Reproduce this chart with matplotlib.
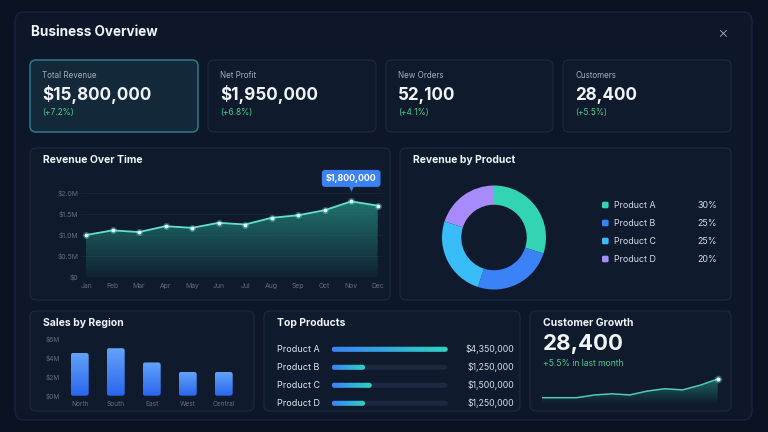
import numpy as np
import matplotlib
matplotlib.use("Agg")
import matplotlib.pyplot as plt
from matplotlib.patches import FancyBboxPatch, Polygon
from matplotlib.colors import to_rgb
from matplotlib.transforms import offset_copy, blended_transform_factory

plt.rcParams['font.family'] = ['Inter', 'DejaVu Sans']

# ---------------- data ----------------
kpi_labels = ["Total Revenue", "Net Profit", "New Orders", "Customers"]
kpi_values = ["$15,800,000", "$1,950,000", "52,100", "28,400"]
kpi_changes = ["(+7.2%)", "(+6.8%)", "(+4.1%)", "(+5.5%)"]

months = ["Jan", "Feb", "Mar", "Apr", "May", "Jun", "Jul", "Aug", "Sep", "Oct", "Nov", "Dec"]
revenue_m = [1.00, 1.11, 1.07, 1.21, 1.17, 1.29, 1.25, 1.41, 1.47, 1.59, 1.80, 1.70]
rev_ticks = [0, 0.5, 1.0, 1.5, 2.0]
rev_tick_labels = ["$0", "$0.5M", "$1.0M", "$1.5M", "$2.0M"]

products = ["Product A", "Product B", "Product C", "Product D"]
product_share = [30, 25, 25, 20]

regions = ["North", "South", "East", "West", "Central"]
region_sales_m = [4.5, 5.0, 3.5, 2.5, 2.5]
region_ticks = [0, 2, 4, 6]
region_tick_labels = ["$0M", "$2M", "$4M", "$6M"]

top_values = [4350000, 1250000, 1500000, 1250000]

cust_total = "28,400"
cust_change = "+5.5% in last month"
cust_growth_k = [26.0, 26.0, 26.0, 26.35, 26.5, 26.35, 26.85, 27.15, 27.0, 27.6, 28.4]

# ---------------- style ----------------
W, H = 768, 432
FIG_BG = "#0b1323"
CONT_BG = "#0e1729"
CONT_EC = "#1a2540"
CARD_BG = "#0f1a2d"
CARD_EC = "#1e2a44"
HL_BG = "#132839"
HL_EC = "#2d7c84"
WHITE = "#f1f5f9"
LABEL = "#a3adbd"
TICK = "#5f6d84"
GREEN = "#3ecf8e"
TEAL_LINE = "#5fe0cf"
DONUT_COLORS = ["#33d4b4", "#3b82f6", "#38bdf8", "#a78bfa"]

fig = plt.figure(figsize=(W / 100, H / 100), dpi=100)
fig.patch.set_facecolor(FIG_BG)

bg = fig.add_axes([0, 0, 1, 1])
bg.set_xlim(0, W)
bg.set_ylim(H, 0)
bg.axis("off")
bg.set_zorder(0)


def px_axes(x0, y0, x1, y1):
    ax = fig.add_axes([x0 / W, 1 - y1 / H, (x1 - x0) / W, (y1 - y0) / H])
    ax.patch.set_alpha(0)
    ax.set_zorder(2)
    return ax


def rbox(x0, y0, x1, y1, fc, ec, r=6, lw=0.8, z=1):
    p = FancyBboxPatch((x0, y0), x1 - x0, y1 - y0,
                       boxstyle=f"round,pad=0,rounding_size={r}",
                       fc=fc, ec=ec, lw=lw, zorder=z)
    bg.add_patch(p)
    return p


def data_to_px(ax, x, y):
    d = ax.transData.transform((x, y))
    return bg.transData.inverted().transform(d)


def rounded_gradient(ax, x0, x1, y0, y1, c0, c1, horizontal, radius, z=3):
    p0 = data_to_px(ax, x0, y0)
    p1 = data_to_px(ax, x1, y1)
    left, right = sorted([p0[0], p1[0]])
    top, bottom = sorted([p0[1], p1[1]])
    patch = FancyBboxPatch((left, top), right - left, bottom - top,
                           boxstyle=f"round,pad=0,rounding_size={radius}",
                           transform=bg.transData, fc="none", ec="none")
    n = 64
    cols = np.linspace(to_rgb(c0), to_rgb(c1), n)
    img = cols[None, :, :] if horizontal else cols[:, None, :]
    im = ax.imshow(img, extent=[x0, x1, y0, y1], origin="upper",
                   aspect="auto", zorder=z, interpolation="bilinear")
    im.set_clip_path(patch)
    return im


def gradient_fill(ax, x, y, ybase, color, a_top, a_bot, z=1):
    verts = np.vstack([[x[0], ybase], np.column_stack([x, y]), [x[-1], ybase]])
    clip = Polygon(verts, closed=True, transform=ax.transData, fc="none", ec="none")
    ax.add_patch(clip)
    rgba = np.zeros((100, 1, 4))
    rgba[:, :, :3] = to_rgb(color)
    rgba[:, 0, 3] = np.linspace(a_top, a_bot, 100)
    im = ax.imshow(rgba, extent=[x[0], x[-1], ybase, max(y)], origin="upper",
                   aspect="auto", zorder=z, interpolation="bilinear")
    im.set_clip_path(clip)


# ---------------- container ----------------
rbox(15, 12, 752, 420, CONT_BG, CONT_EC, r=9, lw=0.9, z=0.5)
bg.text(31, 32, "Business Overview", color=WHITE, fontsize=9.7, fontweight="bold",
        ha="left", va="center")
bg.text(723, 34, "\u00d7", color="#c5cde0", fontsize=12, fontweight="light",
        ha="center", va="center")

# ---------------- KPI cards ----------------
card_x = [(30, 198), (208, 376), (386, 553), (563, 731)]
for i, (x0, x1) in enumerate(card_x):
    if i == 0:
        rbox(x0, 60, x1, 132, HL_BG, HL_EC, r=6, lw=1.1)
    else:
        rbox(x0, 60, x1, 132, CARD_BG, CARD_EC, r=6, lw=0.8)
    bg.text(x0 + 12, 75, kpi_labels[i], color=LABEL, fontsize=5.8, ha="left", va="center")
    bg.text(x0 + 12, 95, kpi_values[i], color=WHITE, fontsize=12.3, fontweight="bold",
            ha="left", va="center")
    bg.text(x0 + 12, 113, kpi_changes[i], color=GREEN, fontsize=6, ha="left", va="center")

# ---------------- panels ----------------
panels = [(30, 148, 390, 300, "Revenue Over Time"),
          (400, 148, 731, 300, "Revenue by Product"),
          (30, 311, 254, 411, "Sales by Region"),
          (264, 311, 520, 411, "Top Products"),
          (530, 311, 731, 411, "Customer Growth")]
for x0, y0, x1, y1, t in panels:
    rbox(x0, y0, x1, y1, CARD_BG, CARD_EC, r=6, lw=0.8)
    bg.text(x0 + 13, y0 + 12, t, color=WHITE, fontsize=7.5, fontweight="bold",
            ha="left", va="center")

# ---------------- Revenue Over Time ----------------
ax = px_axes(80.7, 193, 383, 277)
xs = np.arange(len(months))
ax.set_xlim(-0.2, len(months) - 1 + 0.2)
ax.set_ylim(0, 2.0)
gradient_fill(ax, xs, revenue_m, 0, "#23827b", 0.85, 0.08, z=1)
ax.plot(xs, revenue_m, color=TEAL_LINE, lw=1.3, zorder=3)
ax.scatter(xs, revenue_m, s=26, color=TEAL_LINE, alpha=0.35, zorder=4, lw=0, clip_on=False)
ax.scatter(xs, revenue_m, s=8, color="#eafffb", zorder=5, lw=0, clip_on=False)
ax.set_xlim(-0.2, len(months) - 1 + 0.2)
ax.set_ylim(0, 2.0)
ax.set_xticks(xs)
ax.set_xticklabels(months)
ax.set_yticks(rev_ticks)
ax.set_yticklabels(rev_tick_labels)
ax.tick_params(colors=TICK, labelsize=4.9, length=0)
ax.tick_params(axis="y", pad=1.5)
ax.tick_params(axis="x", pad=4)
ax.grid(axis="y", color="#1b2740", lw=0.6)
ax.set_axisbelow(True)
for s in ax.spines.values():
    s.set_visible(False)
peak = int(np.argmax(revenue_m))
ax.annotate(f"${revenue_m[peak] * 1e6:,.0f}", xy=(xs[peak], revenue_m[peak]),
            xytext=(0, 23), textcoords="offset pixels", ha="center", va="center",
            color="white", fontsize=6.4, fontweight="bold", zorder=6,
            bbox=dict(boxstyle="round,pad=0.45,rounding_size=0.35", fc="#3b82f6", ec="none"),
            annotation_clip=False)
tri = offset_copy(ax.transData, fig=fig, x=0, y=13, units="dots")
ax.plot([xs[peak]], [revenue_m[peak]], marker="v", ms=5, color="#3b82f6",
        transform=tri, clip_on=False, zorder=6, mec="none")

# ---------------- Donut ----------------
cx, cy, R = 494, 237.5, 52
axd = px_axes(cx - R, cy - R, cx + R, cy + R)
axd.pie(product_share, colors=DONUT_COLORS, startangle=90, counterclock=False,
        radius=1.0, wedgeprops=dict(width=0.37, edgecolor="none"))
axd.set_xlim(-1, 1)
axd.set_ylim(-1, 1)
axd.set_aspect("equal")
axd.axis("off")
for i, (p, s) in enumerate(zip(products, product_share)):
    y = 205 + i * 18
    bg.add_patch(FancyBboxPatch((602, y - 3.3), 6.6, 6.6,
                                boxstyle="round,pad=0,rounding_size=1.5",
                                fc=DONUT_COLORS[i], ec="none", zorder=2))
    bg.text(614, y, p, color="#d5dbe6", fontsize=6.4, ha="left", va="center")
    bg.text(717, y, f"{s}%", color="#d5dbe6", fontsize=6.4, ha="right", va="center")

# ---------------- Sales by Region ----------------
axr = px_axes(61.7, 338.7, 241.7, 395.7)
axr.set_xlim(-0.5, len(regions) - 0.5)
axr.set_ylim(0, 6)
axr.set_xticks(range(len(regions)))
axr.set_xticklabels(regions)
axr.set_yticks(region_ticks)
axr.set_yticklabels(region_tick_labels)
axr.tick_params(colors=TICK, labelsize=4.7, length=0)
axr.tick_params(axis="y", pad=1)
axr.tick_params(axis="x", pad=3.5)
for s in axr.spines.values():
    s.set_visible(False)
for i, v in enumerate(region_sales_m):
    rounded_gradient(axr, i - 0.25, i + 0.25, 0, v, "#62a2f8", "#2a66ee",
                     horizontal=False, radius=2.5)
axr.set_xlim(-0.5, len(regions) - 0.5)
axr.set_ylim(0, 6)

# ---------------- Top Products ----------------
axp = px_axes(331.7, 340.3, 447.7, 412.3)
vmax = max(top_values)
axp.set_xlim(0, vmax)
axp.set_ylim(len(products) - 0.5, -0.5)
axp.axis("off")
hh = 0.14
for i, v in enumerate(top_values):
    rounded_gradient(axp, 0, vmax, i - hh, i + hh, "#1d2840", "#1d2840",
                     horizontal=True, radius=2.5, z=2)
    rounded_gradient(axp, 0, v, i - hh, i + hh, "#3b82f6", "#2dd4bf",
                     horizontal=True, radius=2.5, z=3)
axp.set_xlim(0, vmax)
axp.set_ylim(len(products) - 0.5, -0.5)
tl = blended_transform_factory(bg.transData, axp.transData)
for i, (p, v) in enumerate(zip(products, top_values)):
    axp.text(277, i, p, transform=tl, color="#e2e8f0", fontsize=6.5, ha="left",
             va="center", clip_on=False)
    axp.text(514, i, f"${v:,.0f}", transform=tl, color="#d5dbe6", fontsize=6.3,
             ha="right", va="center", clip_on=False)

# ---------------- Customer Growth ----------------
bg.text(543, 344, cust_total, color=WHITE, fontsize=16, fontweight="bold",
        ha="left", va="center")
bg.text(543, 364, cust_change, color=GREEN, fontsize=6.2, ha="left", va="center")
axc = px_axes(541.7, 374, 717.7, 404)
cx_ = np.arange(len(cust_growth_k))
ylo, yhi = 25.19, 29.04
axc.set_xlim(0, len(cust_growth_k) - 1)
axc.set_ylim(ylo, yhi)
gradient_fill(axc, cx_, cust_growth_k, ylo, "#23827b", 0.75, 0.0, z=1)
axc.plot(cx_, cust_growth_k, color="#4fc9bd", lw=1.1, zorder=3)
axc.scatter([cx_[-1]], [cust_growth_k[-1]], s=30, color=TEAL_LINE, alpha=0.35,
            lw=0, zorder=4, clip_on=False)
axc.scatter([cx_[-1]], [cust_growth_k[-1]], s=9, color="#f0fffd", lw=0, zorder=5,
            clip_on=False)
axc.set_xlim(0, len(cust_growth_k) - 1)
axc.set_ylim(ylo, yhi)
axc.axis("off")

fig.savefig("out.png", dpi=100, facecolor=FIG_BG)
